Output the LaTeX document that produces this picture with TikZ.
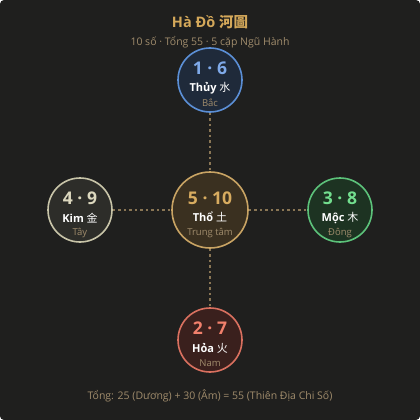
\documentclass[tikz,border=0pt]{standalone}
\usepackage{fontspec}
\setmainfont{Open Sans}
\newfontfamily\cjk{Noto Sans CJK TC}
\definecolor{bg}{HTML}{1F1F1E}
\definecolor{gold}{HTML}{D4A85A}
\definecolor{tan}{HTML}{A08C6C}
\definecolor{dashc}{HTML}{8A7655}
\definecolor{nStroke}{HTML}{5B8FD6}\definecolor{nFill}{HTML}{1F2A3A}\definecolor{nNum}{HTML}{7FAAEA}
\definecolor{wStroke}{HTML}{C8C4A8}\definecolor{wFill}{HTML}{2D2D29}\definecolor{wNum}{HTML}{DCD8BE}
\definecolor{cStroke}{HTML}{C9A464}\definecolor{cFill}{HTML}{3A3020}\definecolor{cNum}{HTML}{D8AC60}
\definecolor{eStroke}{HTML}{5CC27A}\definecolor{eFill}{HTML}{1D3322}\definecolor{eNum}{HTML}{72DE8E}
\definecolor{sStroke}{HTML}{D9705F}\definecolor{sFill}{HTML}{3A201D}\definecolor{sNum}{HTML}{F2806C}
\tikzset{
  elem/.style={circle, line width=1.6pt, minimum size=64pt, inner sep=0pt},
  big/.style={elem, minimum size=76pt},
  numtxt/.style={font=\fontsize{17.5}{19}\selectfont\bfseries},
  nametxt/.style={font=\fontsize{11}{13}\selectfont\bfseries, text=white},
  dirtxt/.style={font=\fontsize{9.5}{11}\selectfont, text=tan},
  link/.style={draw=dashc, line width=1.4pt, dash pattern=on 2.5pt off 3pt},
}
\begin{document}
\begin{tikzpicture}[x=1pt,y=-1pt]
\useasboundingbox (0,0) rectangle (420,420);
\fill[bg, rounded corners=4pt] (0,0) rectangle (420,420);
\node[font=\fontsize{14.5}{16}\selectfont\bfseries, text=gold] (title) at (210,22) {Hà Đồ {\cjk 河圖}};
\node[font=\fontsize{10.5}{12}\selectfont, text=tan] (sub) at (210,42) {10 số · Tổng 55 · 5 cặp Ngũ Hành};
% circles
\node[elem, draw=nStroke, fill=nFill] (N) at (210,80) {};
\node[elem, draw=wStroke, fill=wFill] (W) at (80,210) {};
\node[big, draw=cStroke, fill=cFill] (C) at (210,210) {};
\node[elem, draw=eStroke, fill=eFill] (E) at (340,210) {};
\node[elem, draw=sStroke, fill=sFill] (S) at (210,340) {};
% links
\draw[link] (N) -- (C);
\draw[link] (W) -- (C);
\draw[link] (C) -- (E);
\draw[link] (C) -- (S);
% North
\node[numtxt, text=nNum] (n1) at (210,68) {1 · 6};
\node[nametxt] (n2) at (210,88) {Thủy {\cjk\mdseries 水}};
\node[dirtxt] (n3) at (210,103) {Bắc};
% West
\node[numtxt, text=wNum] (w1) at (80,198) {4 · 9};
\node[nametxt] (w2) at (80,218) {Kim {\cjk\mdseries 金}};
\node[dirtxt] (w3) at (80,233) {Tây};
% Center
\node[numtxt, text=cNum] (c1) at (210,198) {5 · 10};
\node[nametxt] (c2) at (210,217) {Thổ {\cjk\mdseries 土}};
\node[dirtxt] (c3) at (210,233) {Trung tâm};
% East
\node[numtxt, text=eNum] (e1) at (340,198) {3 · 8};
\node[nametxt] (e2) at (340,218) {Mộc {\cjk\mdseries 木}};
\node[dirtxt] (e3) at (340,233) {Đông};
% South
\node[numtxt, text=sNum] (s1) at (210,328) {2 · 7};
\node[nametxt] (s2) at (210,348) {Hỏa {\cjk\mdseries 火}};
\node[dirtxt] (s3) at (210,363) {Nam};
\node[font=\fontsize{10.5}{12}\selectfont, text=tan] (foot) at (210,396) {Tổng: 25 (Dương) + 30 (Âm) = 55 (Thiên Địa Chi Số)};
\end{tikzpicture}
\end{document}
